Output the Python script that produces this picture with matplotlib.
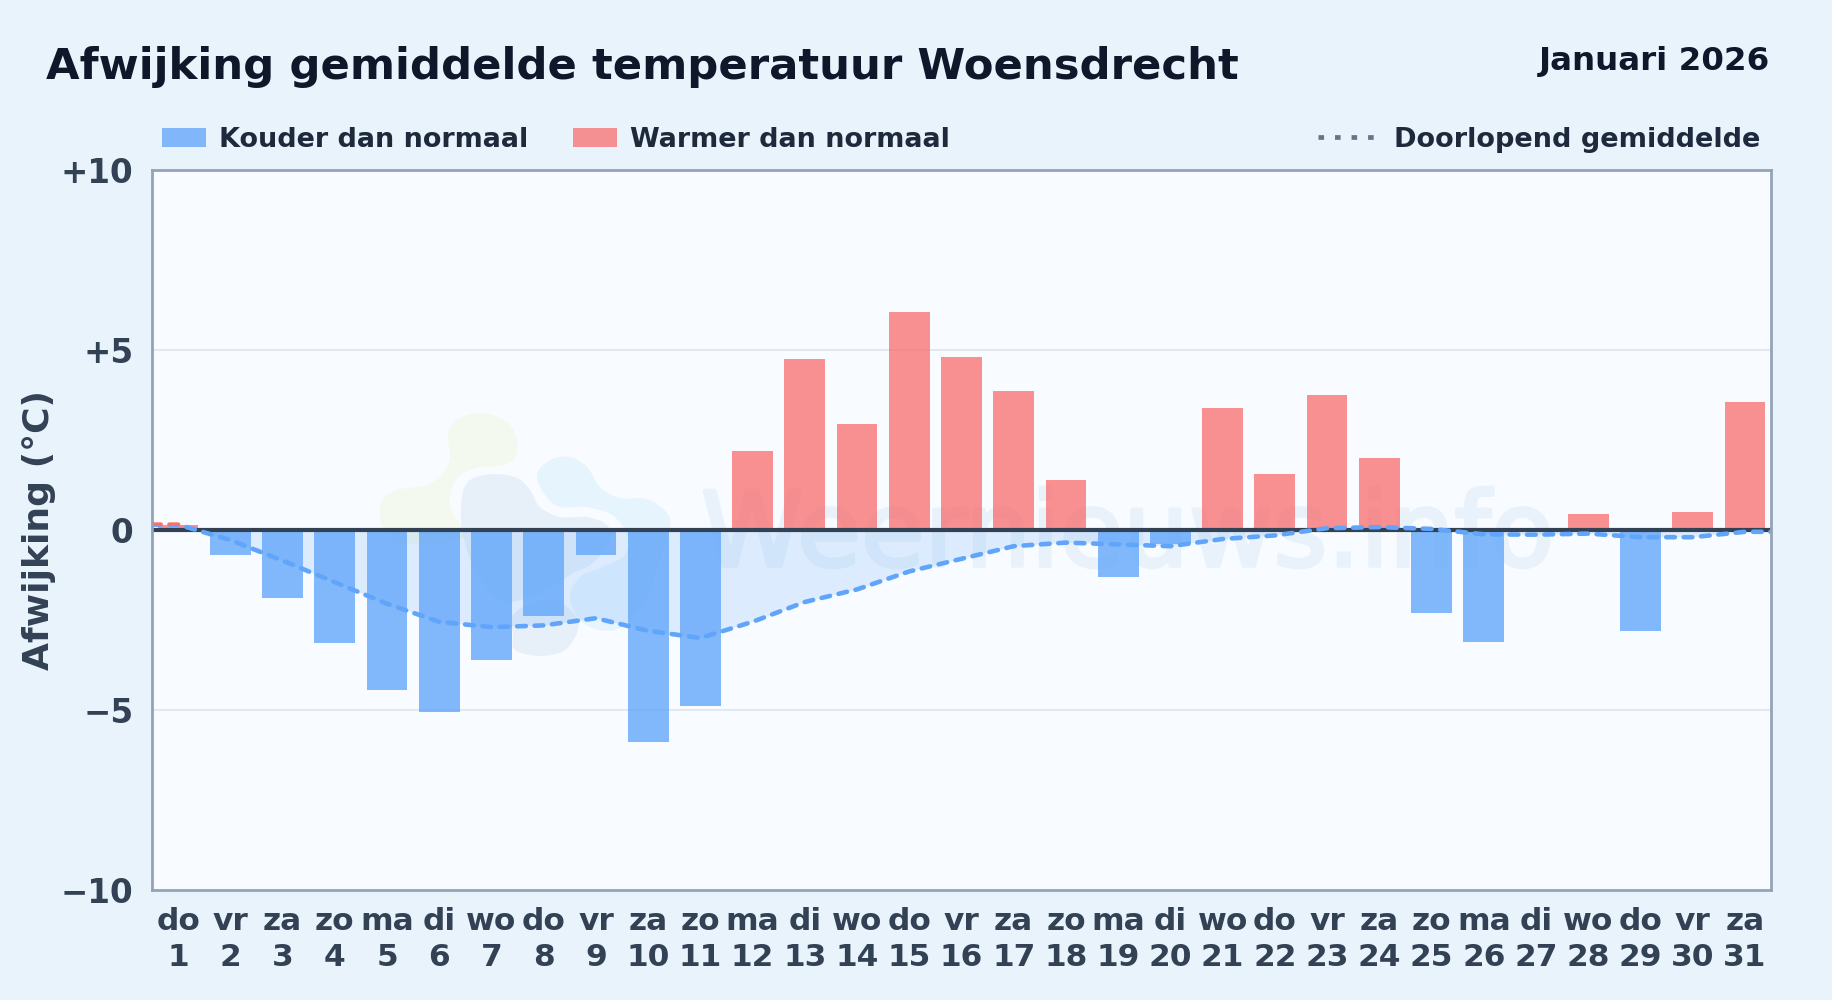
import matplotlib
matplotlib.use("Agg")
import matplotlib.patheffects as pe
import matplotlib.pyplot as plt
import numpy as np
from matplotlib.patches import PathPatch, Rectangle
from matplotlib.path import Path
from matplotlib.transforms import Affine2D

W, H = 1832, 1000

# values
days = list(range(1, 32))
weekdays = ["do", "vr", "za", "zo", "ma", "di", "wo", "do", "vr", "za", "zo", "ma", "di", "wo", "do", "vr",
            "za", "zo", "ma", "di", "wo", "do", "vr", "za", "zo", "ma", "di", "wo", "do", "vr", "za"]
deviation = [0.15, -0.7, -1.9, -3.15, -4.45, -5.05, -3.6, -2.4, -0.7, -5.9, -4.9, 2.2, 4.75, 2.95, 6.05, 4.8,
             3.85, 1.4, -1.3, -0.4, 3.4, 1.55, 3.75, 2.0, -2.3, -3.1, 0.0, 0.45, -2.8, 0.5, 3.55]
running_mean = [0.15, -0.28, -0.85, -1.45, -2.05, -2.55, -2.7, -2.65, -2.45, -2.8, -3.0, -2.55, -2.0, -1.65,
                -1.15, -0.8, -0.45, -0.35, -0.4, -0.45, -0.25, -0.15, 0.05, 0.08, 0.03, -0.12, -0.13, -0.1,
                -0.2, -0.2, -0.05]
y_ticks = [10, 5, 0, -5, -10]
y_labels = ["+10", "+5", "0", "\u22125", "\u221210"]

# watermark logo outlines, in image pixels
logo_green = [(448, 433), (460, 418), (483, 413), (507, 422), (517, 440), (515, 457), (503, 465), (477, 468),
              (460, 475), (452, 488), (450, 507), (460, 523), (470, 535), (440, 543), (400, 543), (385, 530),
              (380, 517), (382, 500), (397, 490), (427, 485), (443, 473), (450, 457)]
logo_grey = [(462, 497), (470, 480), (493, 474), (517, 478), (530, 490), (540, 507), (560, 517), (587, 517),
             (607, 525), (610, 540), (593, 563), (573, 573), (547, 590), (520, 600), (500, 600), (475, 570),
             (462, 530)]
logo_grey2 = [(512, 617), (530, 603), (555, 600), (575, 615), (578, 630), (565, 650), (540, 656), (515, 650),
              (513, 635)]
logo_blue = [(537, 475), (550, 460), (570, 457), (587, 467), (600, 487), (620, 498), (647, 499), (667, 513),
             (670, 530), (660, 560), (650, 590), (640, 610), (620, 628), (600, 630), (580, 620), (570, 597),
             (580, 577), (600, 568), (625, 555), (627, 535), (612, 515), (585, 507), (560, 507), (545, 495)]


def blob_path(points):
    # closed Catmull-Rom curve through the outline
    pts = np.array(points, float)
    n = len(pts)
    verts = [pts[0]]
    codes = [Path.MOVETO]
    for i in range(n):
        p0, p1, p2, p3 = pts[i - 1], pts[i], pts[(i + 1) % n], pts[(i + 2) % n]
        verts += [p1 + (p2 - p0) / 6, p2 - (p3 - p1) / 6, p2]
        codes += [Path.CURVE4] * 3
    return Path(verts, codes)


fig = plt.figure(figsize=(W / 100, H / 100), dpi=100, facecolor="#e8f3fc")
# transform for image pixel coordinates, origin at top left
px = Affine2D().scale(1 / W, -1 / H).translate(0, 1) + fig.transFigure

left, right, top, bottom = 152, 1771, 170, 890
ax = fig.add_axes([left / W, 1 - bottom / H, (right - left) / W, (bottom - top) / H], facecolor="#f8fbff")
ax.set_xlim(0.5, 31.5)
ax.set_ylim(-10, 10)

for spine in ax.spines.values():
    spine.set_color("#94a3b8")
    spine.set_linewidth(2.0)
    spine.set_zorder(6)

ax.axhline(5, color="#e2e8f0", lw=1.4, zorder=1)
ax.axhline(-5, color="#e2e8f0", lw=1.4, zorder=1)

# watermark
for outline, colour in [(logo_green, "#f3f9ef"), (logo_grey, "#e7f0f9"), (logo_grey2, "#e7f0f9"),
                        (logo_blue, "#e6f4fe")]:
    ax.add_patch(PathPatch(blob_path(outline), transform=px, facecolor=colour, edgecolor="none", zorder=1.5))
ax.text(701, 566, "Weernieuws.info", transform=px, fontsize=74.5, fontweight="normal", color="#e9f2fb",
        ha="left", va="baseline", zorder=1.6,
        path_effects=[pe.withStroke(linewidth=2.6, foreground="#e9f2fb")])

x = np.array(days, float)
dev = np.array(deviation)
mean = np.array(running_mean)

ax.fill_between(x, mean, 0, where=mean <= 0, interpolate=True, color="#60a5fa", alpha=0.18, lw=0, zorder=2)
ax.fill_between(x, mean, 0, where=mean >= 0, interpolate=True, color="#f87171", alpha=0.18, lw=0, zorder=2)

bar_colours = ["#f87171" if v >= 0 else "#60a5fa" for v in deviation]
ax.bar(x, dev, width=0.78, color=bar_colours, alpha=0.78, lw=0, zorder=3)

ax.axhline(0, color="#334155", lw=3.0, zorder=4)

# running mean: red above zero, blue below, dashed
line_x = np.r_[0.5, x, 31.5]
line_y = np.r_[mean[0], mean, mean[-1]]
for colour, y0, hgt in [("#60a5fa", -10, 10.12), ("#f87171", 0.12, 10)]:
    ln, = ax.plot(line_x, line_y, color=colour, lw=3.3, dashes=(1.9, 1.9), dash_capstyle="round",
                  dash_joinstyle="round", zorder=5)
    ln.set_clip_path(Rectangle((0.5, y0), 31, hgt, transform=ax.transData))

ax.set_xticks(days)
ax.set_xticklabels([f"{d}\n{n}" for d, n in zip(weekdays, days)], fontsize=22.5, fontweight="bold",
                   color="#334155", linespacing=1.27)
ax.set_yticks(y_ticks)
ax.set_yticklabels(y_labels, fontsize=23.5, fontweight="bold", color="#334155")
ax.tick_params(axis="x", length=0, pad=12.5)
ax.tick_params(axis="y", length=0, pad=13.5)

fig.text(39 / W, 1 - 530 / H, "Afwijking (\u00b0C)", rotation=90, fontsize=26, fontweight="bold",
         color="#334155", ha="center", va="center")

# header
fig.text(46 / W, 1 - 79 / H, "Afwijking gemiddelde temperatuur Woensdrecht", fontsize=31.2, fontweight="bold",
         color="#0f172a", ha="left", va="baseline")
fig.text(1770 / W, 1 - 70 / H, "Januari 2026", fontsize=23.4, fontweight="bold", color="#0f172a", ha="right",
         va="baseline")

# legend drawn by hand, it sits split over the width
legend_y = 137
for sx, tx, colour, label in [(162, 219, "#82b6fb", "Kouder dan normaal"), (573, 630, "#f59092", "Warmer dan normaal")]:
    fig.add_artist(Rectangle((sx, legend_y - 9.5), 43.5, 19, transform=px, facecolor=colour, edgecolor="none"))
    fig.text(tx / W, 1 - legend_y / H, label, fontsize=19.45, fontweight="bold", color="#1e293b", ha="left",
             va="center_baseline")
fig.add_artist(plt.Line2D([1318, 1374], [legend_y, legend_y], transform=px, color="#64748b", lw=3.4,
                          dashes=(1.18, 2.32)))
fig.text(1760 / W, 1 - legend_y / H, "Doorlopend gemiddelde", fontsize=19.5, fontweight="bold", color="#1e293b",
         ha="right", va="center_baseline")

fig.savefig("out.png", dpi=100, facecolor=fig.get_facecolor())
